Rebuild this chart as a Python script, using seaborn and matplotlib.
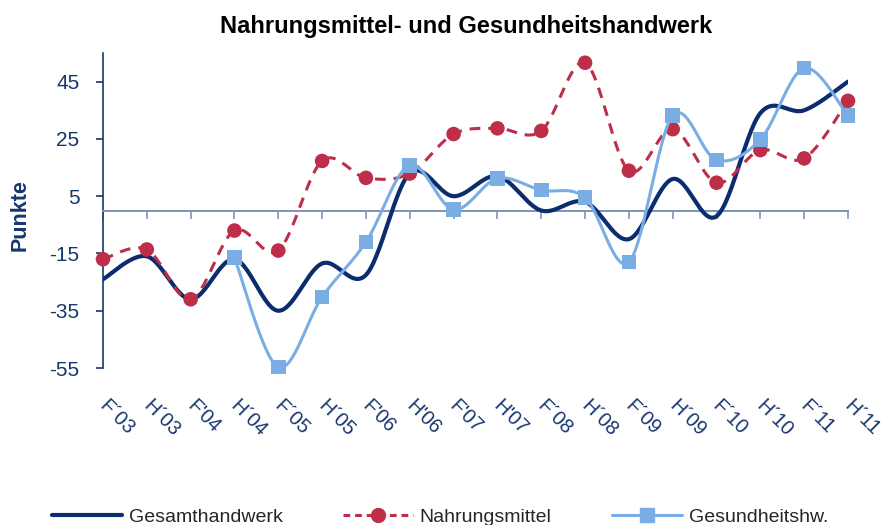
import numpy as np
import matplotlib
matplotlib.use("Agg")
import matplotlib.pyplot as plt
from matplotlib.lines import Line2D
import seaborn as sns

# halbjahre (F = Frühjahr, H = Herbst)
periods = ["F´03", "H´03", "F'04", "H´04", "F´05", "H´05", "F'06", "H'06", "F'07",
           "H'07", "F´08", "H´08", "F´09", "H´09", "F´10", "H´10", "F´11", "H´11"]

gesamt = [-24, -16, -31, -17, -35, -18.5, -22.5, 13, 5, 12, 0, 3, -10, 11, -2, 34, 35, 45]
nahrung = [-17, -13.6, -31, -7, -14, 17.3, 11.4, 12.9, 26.7, 28.7, 27.8, 51.6, 13.9, 28.4,
           9.7, 21.1, 18.2, 38.3]
gesundheit = [np.nan, np.nan, np.nan, -16.5, -54.7, -30.2, -11, 15.8, 0.3, 11.2, 7.1, 4.5,
              -18, 33.1, 17.6, 24.8, 49.7, 33.1]

yticks = [45, 25, 5, -15, -35, -55]

c_dark = "#0B2D6E"
c_red = "#BE2E48"
c_light = "#79ADE4"
c_text = "#17366F"
c_zero = "#7F93B6"


def smooth(vals, n=30):
    """Excel-like smoothed line (cubic bezier through the points)"""
    y = np.asarray(vals, dtype=float)
    x = np.arange(len(y))
    ok = ~np.isnan(y)
    pts = np.column_stack([x[ok], y[ok]])
    out = []
    t = np.linspace(0, 1, n)[:, None]
    for i in range(len(pts) - 1):
        p0 = pts[max(i - 1, 0)]
        p1 = pts[i]
        p2 = pts[i + 1]
        p3 = pts[min(i + 2, len(pts) - 1)]
        c1 = p1 + (p2 - p0) / 6
        c2 = p2 - (p3 - p1) / 6
        seg = (1 - t) ** 3 * p1 + 3 * (1 - t) ** 2 * t * c1 + 3 * (1 - t) * t ** 2 * c2 + t ** 3 * p2
        out.append(seg if i == 0 else seg[1:])
    return np.vstack(out)


sns.set_theme(style="white")
plt.rcParams["font.family"] = ["Liberation Sans", "DejaVu Sans"]

fig = plt.figure(figsize=(8.84, 5.25), dpi=100)
ax = fig.add_axes([103 / 884, 1 - 368 / 525, 745 / 884, 315 / 525])

idx = np.arange(len(periods))

s = smooth(gesamt)
sns.lineplot(x=s[:, 0], y=s[:, 1], ax=ax, sort=False, color=c_dark, lw=3.0, zorder=3)

s = smooth(nahrung)
sns.lineplot(x=s[:, 0], y=s[:, 1], ax=ax, sort=False, color=c_red, lw=2.2,
             linestyle=(0, (3.5, 2.6)), zorder=4)
sns.scatterplot(x=idx, y=nahrung, ax=ax, marker="o", s=110, color=c_red,
                edgecolor="none", zorder=5, clip_on=False)

s = smooth(gesundheit)
sns.lineplot(x=s[:, 0], y=s[:, 1], ax=ax, sort=False, color=c_light, lw=2.2, zorder=6)
sns.scatterplot(x=idx, y=gesundheit, ax=ax, marker="s", s=110, color=c_light,
                edgecolor="none", zorder=7, clip_on=False)

ax.set_xlim(0, len(periods) - 1)
ax.set_ylim(-55, 55)

# y axis
ax.set_yticks(yticks)
ax.set_yticklabels([str(v) for v in yticks], fontsize=15, color=c_text)
ax.tick_params(axis="y", direction="out", length=5, width=1.2, color=c_text, pad=12, left=True)

# x axis crosses at 0, labels at the bottom
ax.spines["bottom"].set_position(("data", 0))
ax.spines["bottom"].set_color(c_zero)
ax.spines["bottom"].set_linewidth(1.4)
ax.set_xticks(idx)
ax.tick_params(axis="x", direction="out", length=6, width=1.2, color=c_zero,
               bottom=True, labelbottom=False)
for i, lab in enumerate(periods):
    ax.text(i - 0.02, -0.112, lab, transform=ax.get_xaxis_transform(), rotation=-45,
            rotation_mode="anchor", ha="left", va="center", fontsize=14.2, color=c_text)

ax.spines["left"].set_color(c_text)
ax.spines["left"].set_linewidth(1.2)
ax.spines["top"].set_visible(False)
ax.spines["right"].set_visible(False)
ax.set_xlabel("")
ax.set_ylabel("")

fig.text(466 / 884, 1 - 27 / 525, "Nahrungsmittel- und Gesundheitshandwerk",
         ha="center", va="center", fontsize=17, fontweight="bold", color="black")
fig.text(20 / 884, 1 - 215 / 525, "Punkte", rotation=90, ha="center", va="center",
         fontsize=15.5, fontweight="bold", color=c_text)

handles = [
    Line2D([], [], color=c_dark, lw=3.0),
    Line2D([], [], color=c_red, lw=2.2, linestyle=(0, (2.2, 1.6)), marker="o", markersize=10),
    Line2D([], [], color=c_light, lw=2.2, marker="s", markersize=10),
]
labels = ["Gesamthandwerk", "Nahrungsmittel", "Gesundheitshw."]
fig.legend(handles, labels, loc="center left", bbox_to_anchor=(52 / 884, 1 - 517 / 525),
           ncol=3, frameon=False, fontsize=14, handlelength=3.6, handletextpad=0.35,
           columnspacing=3.1, borderpad=0, borderaxespad=0)

fig.savefig("out.png", dpi=100)
